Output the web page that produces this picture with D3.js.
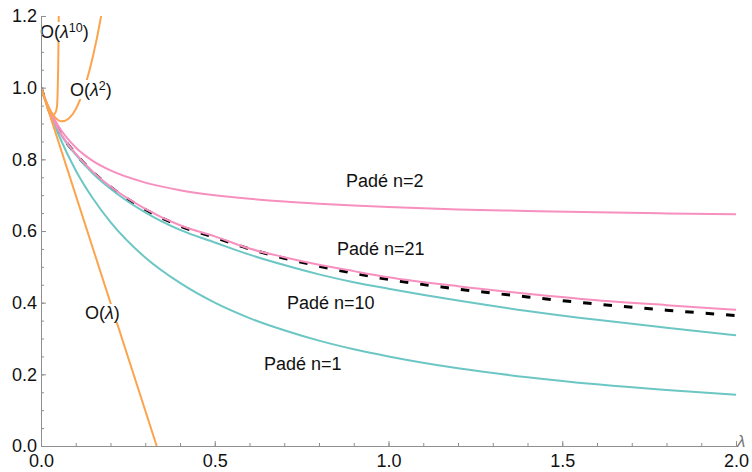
<!DOCTYPE html>
<html>
<head>
<meta charset="utf-8">
<script src="https://cdn.jsdelivr.net/npm/d3@7"></script>
<style>
  body { margin:0; background:#fff; }
  svg { display:block; }
  text { font-family:"Liberation Sans", Arial, sans-serif; }
</style>
</head>
<body>
<div id="chart"></div>
<script>
// lambda grid shared by the exact curve and the Pade curves
const lam    = [0, 0.025, 0.05, 0.1, 0.15, 0.2, 0.3, 0.4, 0.5, 0.6, 0.7, 0.8, 0.9, 1.0, 1.2, 1.4, 1.6, 1.8, 2.0]
const exact  = [1, 0.933, 0.882, 0.815, 0.764, 0.723, 0.660, 0.614, 0.582, 0.550, 0.524, 0.502, 0.482, 0.465, 0.438, 0.416, 0.396, 0.379, 0.364]
const pade1  = [1, 0.930, 0.870, 0.769, 0.690, 0.625, 0.526, 0.455, 0.400, 0.357, 0.323, 0.294, 0.270, 0.250, 0.217, 0.192, 0.172, 0.156, 0.143]
const pade2  = [1, 0.938, 0.893, 0.833, 0.795, 0.769, 0.735, 0.714, 0.700, 0.690, 0.682, 0.676, 0.671, 0.667, 0.660, 0.656, 0.652, 0.649, 0.647]
const pade10 = [1, 0.933, 0.881, 0.813, 0.760, 0.718, 0.652, 0.603, 0.568, 0.534, 0.505, 0.479, 0.457, 0.439, 0.406, 0.377, 0.352, 0.330, 0.309]
const pade21 = [1, 0.934, 0.883, 0.816, 0.765, 0.724, 0.662, 0.616, 0.585, 0.551, 0.527, 0.506, 0.488, 0.471, 0.446, 0.425, 0.407, 0.393, 0.380]

// truncated series
const lamO1  = [0, 0.333]
const seriesO1 = [1, 0]
const lamO2  = [0, 0.02, 0.04, 0.06, 0.08, 0.10, 0.12, 0.14, 0.16, 0.173]
const seriesO2 = [1, 0.950, 0.918, 0.906, 0.914, 0.940, 0.986, 1.050, 1.134, 1.2]
const lamO10 = [0, 0.01, 0.02, 0.03, 0.036, 0.042, 0.046, 0.048, 0.0495, 0.0505, 0.051]
const seriesO10 = [1, 0.971, 0.946, 0.930, 0.925, 0.931, 0.948, 0.990, 1.06, 1.14, 1.2]

const xTicks = [0, 0.5, 1.0, 1.5, 2.0]
const yTicks = [0, 0.2, 0.4, 0.6, 0.8, 1.0, 1.2]

function render(){
  let width = 752, height = 472
  const x = d3.scaleLinear().domain([0,2]).range([41,736])
  const y = d3.scaleLinear().domain([0,1.2]).range([446,16])
  const fs = 18

  let svg = d3.select("#chart").append("svg").attr("width",width).attr("height",height)

  svg.append("defs").append("clipPath").attr("id","clip")
    .append("rect").attr("x",41).attr("y",16).attr("width",695).attr("height",430)

  const line = d3.line().x(d=>x(d[0])).y(d=>y(d[1])).curve(d3.curveMonotoneX)
  const zip = (xs,ys) => xs.map((v,i)=>[v,ys[i]])

  let plot = svg.append("g").attr("clip-path","url(#clip)")
  const orange = "#fca44d", pink = "#f78fbf", teal = "#6cc7c4"

  // exact curve first, the pade lines sit on top of it
  plot.append("path").attr("d",line(zip(lam,exact)))
    .attr("fill","none").attr("stroke","#000").attr("stroke-width",3)
    .attr("stroke-dasharray","8.5,12")

  const series = [
    [zip(lam,pade1), teal],
    [zip(lam,pade10), teal],
    [zip(lam,pade2), pink],
    [zip(lam,pade21), pink],
    [zip(lamO1,seriesO1), orange],
    [zip(lamO2,seriesO2), orange],
    [zip(lamO10,seriesO10), orange]
  ]
  plot.selectAll("path.s").data(series).enter().append("path").attr("class","s")
    .attr("d",d=>line(d[0]))
    .attr("fill","none").attr("stroke",d=>d[1]).attr("stroke-width",2)

  // labels with white backing box
  const labels = [
    {x:40,  y:38,  parts:[["O("],["λ","i"],["10","sup"],[")"]]},
    {x:70,  y:96,  parts:[["O("],["λ","i"],["2","sup"],[")"]]},
    {x:85,  y:319, parts:[["O("],["λ","i"],[")"]]},
    {x:346, y:187, parts:[["Padé n=2"]]},
    {x:337, y:255, parts:[["Padé n=21"]]},
    {x:287, y:309, parts:[["Padé n=10"]]},
    {x:264, y:370, parts:[["Padé n=1"]]}
  ]
  let lg = svg.append("g")
  labels.forEach(l=>{
    let g = lg.append("g")
    let bg = g.append("rect").attr("fill","#fff")
    let t = g.append("text").attr("x",l.x).attr("y",l.y).attr("font-size",fs).attr("fill","#111")
    let shift = 0
    l.parts.forEach(p=>{
      let ts = t.append("tspan").text(p[0])
      if(p[1]=="i") ts.attr("font-style","italic")
      if(p[1]=="sup"){ ts.attr("font-size",12.5).attr("dy",-6); shift = 6 }
      else if(shift){ ts.attr("dy",shift); shift = 0 }
    })
    let b = t.node().getBBox()
    bg.attr("x",b.x-1).attr("y",b.y+1).attr("width",b.width+2).attr("height",b.height-2)
  })

  // axes, ticks pointing inward
  const axisColor = "#8f8f8f"
  let xAxis = d3.axisBottom(x).tickValues(xTicks).tickFormat(d3.format(".1f"))
    .tickSizeInner(-5).tickSizeOuter(0).tickPadding(8)
  let xMinor = d3.axisBottom(x).tickValues(d3.range(0,2.001,0.1)).tickFormat("")
    .tickSizeInner(-3).tickSizeOuter(0)
  let yAxis = d3.axisLeft(y).tickValues(yTicks).tickFormat(d3.format(".1f"))
    .tickSizeInner(-5).tickSizeOuter(0).tickPadding(4)
  let yMinor = d3.axisLeft(y).tickValues(d3.range(0,1.201,0.05)).tickFormat("")
    .tickSizeInner(-3).tickSizeOuter(0)

  let gx = svg.append("g").attr("transform","translate(0,446)")
  gx.call(xMinor)
  gx.append("g").call(xAxis)
  let gy = svg.append("g").attr("transform","translate(41,0)")
  gy.call(yMinor)
  gy.append("g").call(yAxis)

  svg.selectAll(".domain").attr("stroke",axisColor)
  svg.selectAll(".tick line").attr("stroke",axisColor)
  svg.selectAll(".tick text").attr("font-size",fs).attr("fill","#111")
    .attr("font-family","'Liberation Sans', Arial, sans-serif")

  svg.append("text").attr("x",737).attr("y",447).attr("font-size",17)
    .attr("font-style","italic").attr("fill","#777").text("λ")
}

render()
</script>
</body>
</html>
